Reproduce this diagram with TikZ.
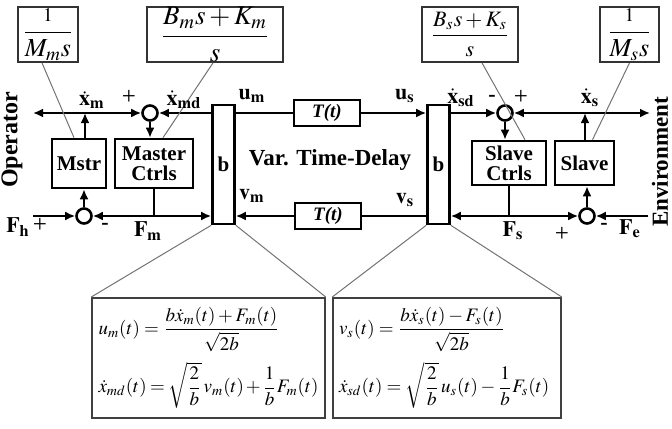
\documentclass[tikz,border=0pt]{standalone}
\usepackage{amsmath}
\usepackage{mathptmx}
\usepackage[no-math]{fontspec}
\setmainfont{Liberation Serif}
\usetikzlibrary{arrows.meta}

\tikzset{
  blk/.style={draw, line width=1.3pt, inner sep=0pt, align=center,
    font=\fontsize{10.5}{10}\selectfont\bfseries},
  tfbox/.style={draw=black!80, line width=0.9pt, inner sep=0pt},
  bblk/.style={draw, line width=1.3pt, inner sep=0pt, minimum width=11pt,
    minimum height=59.5pt, font=\fontsize{10.5}{12}\selectfont\bfseries},
  dly/.style={draw, line width=1.3pt, inner sep=0pt, minimum width=33pt,
    minimum height=13pt, font=\fontsize{9.5}{10}\selectfont\bfseries\itshape},
  sumj/.style={circle, draw, line width=1.3pt, minimum size=7.5pt, inner sep=0pt},
  sig/.style={line width=1.3pt},
  arr/.style={sig, -{Latex[length=5pt,width=4.5pt]}},
  lead/.style={black!55, line width=0.5pt},
  lbl/.style={font=\fontsize{11}{12}\selectfont\bfseries, inner sep=0pt},
  sgn/.style={font=\fontsize{12.5}{13}\selectfont, inner sep=0pt},
  eqbox/.style={draw=black!75, line width=0.9pt, inner xsep=3pt, inner ysep=0pt,
    minimum height=60pt, align=left, font=\fontsize{9.5}{11}\selectfont}
}

\begin{document}
\begin{tikzpicture}[x=0.5pt, y=-0.5pt]
  \useasboundingbox (0,0) rectangle (672,428);

  % transfer function boxes
  \node[tfbox, minimum width=30pt, minimum height=27.5pt, font=\fontsize{13}{15}\selectfont] (tfm) at (48,34.5) {$\dfrac{\scriptstyle 1}{M_{m}s}$};
  \node[tfbox, minimum width=68pt, minimum height=27.5pt, font=\fontsize{13.5}{15}\selectfont] (tfmc) at (215,34.5) {$\dfrac{B_{m}s+K_{m}}{s}$};
  \node[tfbox, minimum width=48pt, minimum height=27.5pt, font=\fontsize{11}{13}\selectfont] (tfsc) at (470,34.5) {$\dfrac{B_{s}s+K_{s}}{s}$};
  \node[tfbox, minimum width=29.5pt, minimum height=27.5pt, font=\fontsize{13}{15}\selectfont] (tfs) at (629.5,34.5) {$\dfrac{\scriptstyle 1}{M_{s}s}$};

  % blocks
  \node[blk, minimum width=27pt, minimum height=24.5pt] (mstr) at (79,163.5) {Mstr};
  \node[blk, minimum width=39pt, minimum height=24.5pt] (mctrl) at (154,163.5) {Master\\Ctrls};
  \node[blk, minimum width=37pt, minimum height=22pt] (sctrl) at (509,163) {Slave\\Ctrls};
  \node[blk, minimum width=29.5pt, minimum height=22pt] (slave) at (584.5,163) {Slave};
  \node[bblk] (bm) at (223.5,164.5) {b};
  \node[bblk] (bs) at (438.5,164.5) {b};
  \node[dly] (tdu) at (327,113) {T(t)};
  \node[dly] (tdv) at (328,216) {T(t)};

  % summing junctions
  \node[sumj] (jm) at (150,113) {};
  \node[sumj] (jf) at (84,216) {};
  \node[sumj] (js) at (505,113) {};
  \node[sumj] (je) at (587,216) {};

  % free ends and branch points
  \coordinate (ol) at (33,113);
  \coordinate (xm) at (85,113);
  \coordinate (fh) at (33,216);
  \coordinate (xs) at (585,113);
  \coordinate (er) at (650,113);
  \coordinate (fe) at (648,216);

  % master side
  \draw[arr] (xm |- mstr.north) -- (xm);
  \draw[arr] (xm) -- (ol);
  \draw[arr] (xm) -- (jm.west);
  \draw[arr] (bm.west |- jm) -- (jm.east);
  \draw[arr] (jm.south) -- (jm.south |- mctrl.north);
  \draw[arr] (fh) -- (jf.west);
  \draw[sig] (mctrl.south) -- (mctrl.south |- jf) coordinate (fm);
  \draw[arr] (fm) -- (jf.east);
  \draw[arr] (fm) -- (bm.west |- jf);
  \draw[arr] (jf.north) -- (jf.north |- mstr.south);

  % channel
  \draw[sig] (bm.east |- tdu) -- (tdu.west);
  \draw[arr] (tdu.east) -- (bs.west |- tdu);
  \draw[sig] (bs.west |- tdv) -- (tdv.east);
  \draw[arr] (tdv.west) -- (bm.east |- tdv);

  % slave side
  \draw[arr] (bs.east |- js) -- (js.west);
  \draw[arr] (js.south) -- (js.south |- sctrl.north);
  \draw[arr] (xs |- slave.north) -- (xs);
  \draw[arr] (xs) -- (js.east);
  \draw[arr] (xs) -- (er);
  \draw[sig] (sctrl.south) -- (sctrl.south |- je) coordinate (fs);
  \draw[arr] (fs) -- (bs.east |- je);
  \draw[arr] (fs) -- (je.west);
  \draw[arr] (fe) -- (je.east);
  \draw[arr] (je.north) -- (je.north |- slave.south);

  % lead lines
  \draw[lead] ([xshift=-3pt]tfm.south) -- ([xshift=-2.5pt]mstr.north);
  \draw[lead] ([xshift=-1pt]tfmc.south) -- ([xshift=4.5pt]mctrl.north);
  \draw[lead] ([xshift=6pt]tfsc.south) -- ([xshift=8pt]sctrl.north);
  \draw[lead] (tfs.south) -- ([xshift=4pt]slave.north);

  % scattering equations
  \node[eqbox, minimum width=116.5pt, text width=110pt] (eqm) at (208.5,358)
    {$u_{m}(t)=\dfrac{b\dot{x}_{m}(t)+F_{m}(t)}{\sqrt{2b}}$\\[4pt]
     $\dot{x}_{md}(t)=\sqrt{\dfrac{2}{b}}\,v_{m}(t)+\dfrac{1}{b}F_{m}(t)$};
  \node[eqbox, minimum width=114pt, text width=108pt] (eqs) at (447,358)
    {$v_{s}(t)=\dfrac{b\dot{x}_{s}(t)-F_{s}(t)}{\sqrt{2b}}$\\[4pt]
     $\dot{x}_{sd}(t)=\sqrt{\dfrac{2}{b}}\,u_{s}(t)-\dfrac{1}{b}F_{s}(t)$};
  \draw[lead] (bm.south west) -- (eqm.north west);
  \draw[lead] (bm.south east) -- (eqm.north east);
  \draw[lead] (bs.south west) -- (eqs.north west);
  \draw[lead] (bs.south east) -- (eqs.north east);

  % labels
  \node[lbl] (lxm) at (92,100) {$\dot{\mathbf{x}}_{\mathbf{m}}$};
  \node[sgn] (pm) at (129,97) {+};
  \node[lbl] (lxmd) at (184,100) {$\dot{\mathbf{x}}_{\mathbf{md}}$};
  \node[lbl] (lum) at (252,96) {$\mathbf{u}_{\mathbf{m}}$};
  \node[lbl] (lus) at (405,96) {$\mathbf{u}_{\mathbf{s}}$};
  \node[lbl] (lxsd) at (461,98) {$\dot{\mathbf{x}}_{\mathbf{sd}}$};
  \node[lbl] (ms) at (492,98) {-};
  \node[sgn] (ps) at (521,97) {+};
  \node[lbl] (lxs) at (590,98) {$\dot{\mathbf{x}}_{\mathbf{s}}$};
  \node[lbl, font=\fontsize{11.5}{13}\selectfont\bfseries] (vtd) at (330,160) {Var. Time-Delay};
  \node[lbl] (lvm) at (252,196) {$\mathbf{v}_{\mathbf{m}}$};
  \node[lbl] (lvs) at (405,200) {$\mathbf{v}_{\mathbf{s}}$};
  \node[lbl] (lfh) at (18,227) {$\mathbf{F}_{\mathbf{h}}$};
  \node[sgn] (ph) at (40,225) {+};
  \node[lbl] (mh) at (105,226) {-};
  \node[lbl] (lfm) at (148,231) {$\mathbf{F}_{\mathbf{m}}$};
  \node[lbl] (lfs) at (513,231) {$\mathbf{F}_{\mathbf{s}}$};
  \node[sgn] (pe) at (562,234) {+};
  \node[lbl] (me) at (604,226) {-};
  \node[lbl] (lfe) at (630,229) {$\mathbf{F}_{\mathbf{e}}$};
  \node[lbl, rotate=90, font=\fontsize{12}{13}\selectfont\bfseries] (op) at (12,140) {Operator};
  \node[lbl, rotate=90, font=\fontsize{11.5}{13}\selectfont\bfseries] (env) at (660,162) {Environment};
\end{tikzpicture}
\end{document}
